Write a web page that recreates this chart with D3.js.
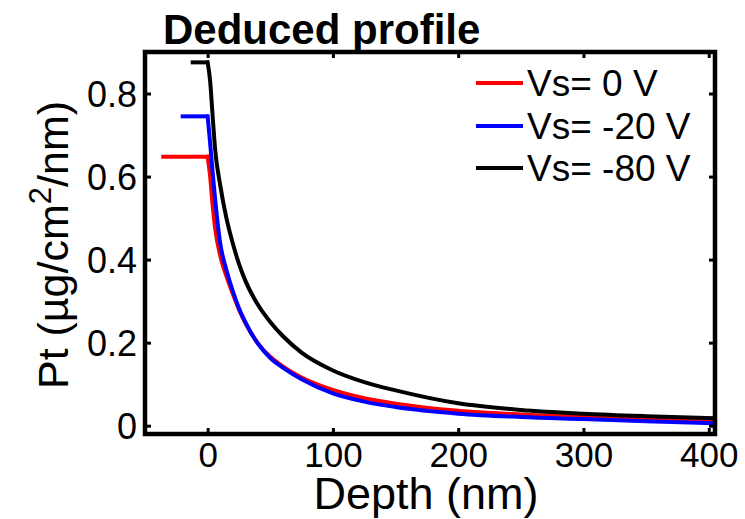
<!DOCTYPE html>
<html><head><meta charset="utf-8">
<script src="https://cdn.jsdelivr.net/npm/d3@7"></script>
<style>
html,body{margin:0;padding:0;background:#fff;}
text{font-family:"Liberation Sans",Arial,sans-serif;fill:#000;}
</style></head>
<body><svg id="chart" width="745" height="519"></svg>
<script>
// ---- data ----
const depth = [0, 2, 4, 6, 10, 15, 20, 25, 30, 40, 50, 60, 75, 100, 125, 150, 200, 250, 300, 350, 405];
const vs0   = [0.648, 0.60, 0.53, 0.475, 0.41, 0.36, 0.318, 0.28, 0.248, 0.199, 0.166, 0.143, 0.116, 0.086, 0.066, 0.053, 0.036, 0.027, 0.021, 0.016, 0.012];
const vs20  = [0.745, 0.68, 0.61, 0.545, 0.44, 0.375, 0.325, 0.283, 0.25, 0.198, 0.163, 0.14, 0.112, 0.078, 0.058, 0.045, 0.029, 0.021, 0.016, 0.011, 0.006];
const vs80  = [0.875, 0.83, 0.745, 0.665, 0.58, 0.50, 0.44, 0.39, 0.35, 0.292, 0.25, 0.216, 0.176, 0.133, 0.105, 0.085, 0.054, 0.038, 0.029, 0.023, 0.018];
const plateauStart = [-37, -21.5, -13.5];   // depth where the flat surface segment begins
const seriesNames = ["Vs= 0 V", "Vs= -20 V", "Vs= -80 V"];
const seriesColors = ["#ff0000", "#0000ff", "#000000"];
const xTicks = [0, 100, 200, 300, 400];
const yTicks = [0, 0.2, 0.4, 0.6, 0.8];
const yTickLabels = ["0", "0.2", "0.4", "0.6", "0.8"];

const svg = d3.select("#chart");
const L = 145, R = 715, T = 52, B = 434;
const x = d3.scaleLinear().domain([-50, 405]).range([L, R]);
const y = d3.scaleLinear().domain([-0.02, 0.9]).range([B, T]);

const allSeries = [vs0, vs20, vs80];
const flatLine = d3.line().x(d => x(d[0])).y(d => y(d[1]));
const curveLine = d3.line().x(d => x(d[0])).y(d => y(d[1])).curve(d3.curveMonotoneX);

allSeries.forEach((vals, i) => {
  const g = svg.append("g");
  const plateau = [[plateauStart[i], vals[0]], [depth[0], vals[0]]];
  const decay = depth.map((d, k) => [d, vals[k]]);
  g.append("path").datum(plateau).attr("d", flatLine)
    .attr("fill", "none").attr("stroke", seriesColors[i]).attr("stroke-width", 4)
    .attr("stroke-linecap", "butt");
  g.append("path").datum(decay).attr("d", curveLine)
    .attr("fill", "none").attr("stroke", seriesColors[i]).attr("stroke-width", 4)
    .attr("stroke-linejoin", "round").attr("stroke-linecap", "square");
});

// ticks (inward, all four sides)
const gx = svg.append("g").attr("transform", `translate(0,${B})`)
  .call(d3.axisBottom(x).tickValues(xTicks).tickSizeInner(-6).tickSizeOuter(0).tickPadding(10).tickFormat(d3.format("d")));
const gxt = svg.append("g").attr("transform", `translate(0,${T})`)
  .call(d3.axisTop(x).tickValues(xTicks).tickSizeInner(-6).tickSizeOuter(0).tickFormat(""));
const gy = svg.append("g").attr("transform", `translate(${L},0)`)
  .call(d3.axisLeft(y).tickValues(yTicks).tickSizeInner(-6).tickSizeOuter(0).tickPadding(10).tickFormat((d, i) => yTickLabels[i]));
const gyr = svg.append("g").attr("transform", `translate(${R},0)`)
  .call(d3.axisRight(y).tickValues(yTicks).tickSizeInner(-6).tickSizeOuter(0).tickFormat(""));
[gx, gxt, gy, gyr].forEach(g => {
  g.select(".domain").remove();
  g.selectAll(".tick line").attr("stroke", "#000").attr("stroke-width", 3);
  g.selectAll("text").attr("font-family", "Liberation Sans, Arial, sans-serif").attr("fill", "#000");
});
gx.selectAll("text").attr("font-size", 35).attr("dy", "0.72em").attr("y", 8);
gy.selectAll("text").attr("font-size", 36).attr("x", -8).attr("dy", "0.36em");

svg.append("rect").attr("x", L).attr("y", T).attr("width", R - L).attr("height", B - T)
  .attr("fill", "none").attr("stroke", "#000").attr("stroke-width", 4.5);

// axis labels
svg.append("text").attr("x", 426).attr("y", 509).attr("text-anchor", "middle")
  .attr("font-size", 45).text("Depth (nm)");
const yl = svg.append("text").attr("transform", "translate(68,245) rotate(-90)")
  .attr("text-anchor", "middle").attr("font-size", 43);
yl.append("tspan").text("Pt (µg/cm");
yl.append("tspan").attr("font-size", 31).attr("dy", -17).text("2");
yl.append("tspan").attr("dy", 17).text("/nm)");

// title
svg.append("text").attr("x", 163).attr("y", 44).attr("font-family", "Lato, sans-serif")
  .attr("font-weight", 700).attr("font-size", 42).text("Deduced profile");

// legend
const legY = [83, 126, 168];
seriesNames.forEach((n, i) => {
  svg.append("line").attr("x1", 476).attr("x2", 523).attr("y1", legY[i]).attr("y2", legY[i])
    .attr("stroke", seriesColors[i]).attr("stroke-width", 4);
  svg.append("text").attr("x", 527).attr("y", legY[i] + 13).attr("font-size", 37).text(n);
});
</script></body></html>
